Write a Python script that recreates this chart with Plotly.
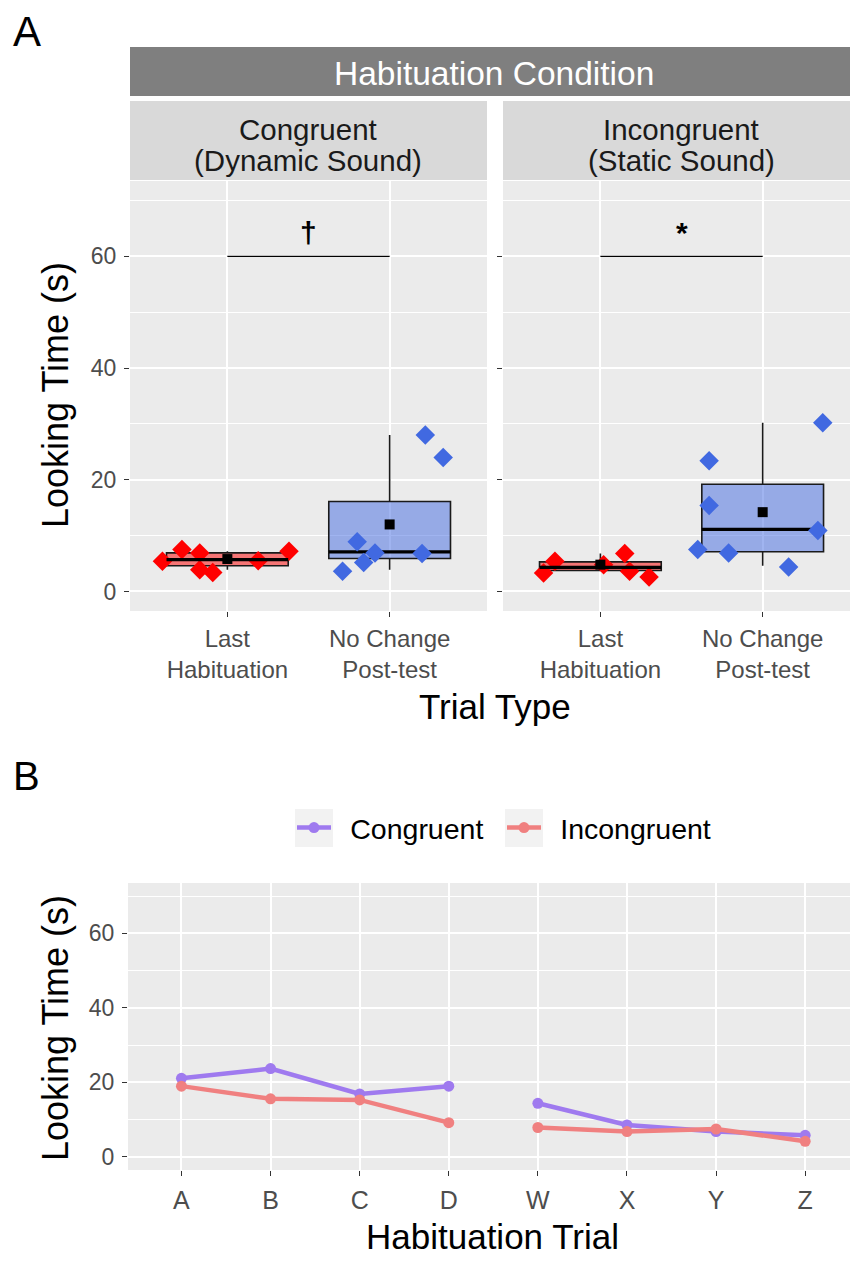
import plotly.graph_objects as go

# ---------------- data ----------------
trial_types = ["Last<br>Habituation", "No Change<br>Post-test"]
facet_line1 = ["Congruent", "Incongruent"]
facet_line2 = ["(Dynamic Sound)", "(Static Sound)"]
strip_title = "Habituation Condition"

# individual looking times (s) with horizontal jitter (category units)
cong_last = [5.4, 7.5, 6.9, 3.9, 3.4, 5.5, 7.2]
cong_last_jit = [-0.40, -0.28, -0.17, -0.17, -0.09, 0.19, 0.38]
cong_post = [3.6, 8.9, 5.2, 6.9, 6.8, 28.0, 24.0]
cong_post_jit = [-0.29, -0.20, -0.16, -0.09, 0.20, 0.22, 0.33]
incong_last = [3.3, 5.4, 4.8, 6.8, 3.6, 2.6]
incong_last_jit = [-0.35, -0.28, 0.02, 0.15, 0.18, 0.30]
incong_post = [7.5, 23.4, 15.4, 6.9, 4.4, 10.9, 30.2]
incong_post_jit = [-0.40, -0.33, -0.33, -0.21, 0.16, 0.34, 0.37]

# box summaries per trial type: [Last Habituation, No Change Post-test]
cong_q1 = [4.6, 5.9]
cong_med = [5.7, 7.1]
cong_q3 = [6.9, 16.1]
cong_lo = [3.9, 3.9]
cong_hi = [7.2, 28.0]
cong_mean = [5.8, 12.0]
incong_q1 = [3.75, 7.1]
incong_med = [4.3, 11.1]
incong_q3 = [5.3, 19.2]
incong_lo = [3.6, 4.6]
incong_hi = [6.8, 30.2]
incong_mean = [4.8, 14.2]

sig_labels = ["†", "*"]
sig_level = 60
sig_label_level = 64.3

# habituation curves
trials = ["A", "B", "C", "D", "W", "X", "Y", "Z"]
trial_block = [1, 1, 1, 1, 2, 2, 2, 2]
congruent_curve = [21.1, 23.7, 16.9, 19.0, 14.4, 8.6, 6.8, 5.8]
incongruent_curve = [19.0, 15.6, 15.3, 9.2, 7.9, 6.8, 7.5, 4.2]

# ---------------- styling ----------------
W, H = 850, 1279
FONT = "Liberation Sans, Arial, sans-serif"
PANEL = "#ebebeb"
TICK_COL = "#4d4d4d"
RED, BLUE = "#ff0000", "#4169e1"
RED_FILL, BLUE_FILL = "rgba(255,0,0,0.5)", "rgba(65,105,225,0.5)"
PURPLE, CORAL = "#9f7aef", "#f08080"


def px(x):
    return x / W


def py(y):
    return 1 - y / H


fig = go.Figure()

facets = [
    dict(xa="x", ya="y",
         pts=[(cong_last, cong_last_jit), (cong_post, cong_post_jit)],
         q1=cong_q1, med=cong_med, q3=cong_q3, lo=cong_lo, hi=cong_hi, mean=cong_mean),
    dict(xa="x2", ya="y2",
         pts=[(incong_last, incong_last_jit), (incong_post, incong_post_jit)],
         q1=incong_q1, med=incong_med, q3=incong_q3, lo=incong_lo, hi=incong_hi, mean=incong_mean),
]
point_cols = [RED, BLUE]
fill_cols = [RED_FILL, BLUE_FILL]
box_w = 0.75

for f in facets:
    for i in range(2):
        vals, jit = f["pts"][i]
        pts = go.Scatter(
            x=[i + j for j in jit], y=vals, mode="markers",
            marker=dict(symbol="diamond", size=15, color=point_cols[i]),
            xaxis=f["xa"], yaxis=f["ya"], showlegend=False, hoverinfo="y")
        box = go.Box(
            x=[i], q1=[f["q1"][i]], median=[f["med"][i]], q3=[f["q3"][i]],
            lowerfence=[f["lo"][i]], upperfence=[f["hi"][i]],
            width=box_w, whiskerwidth=0, fillcolor=fill_cols[i],
            line=dict(color="#1a1a1a", width=1.6), boxpoints=False,
            xaxis=f["xa"], yaxis=f["ya"], showlegend=False)
        median = go.Scatter(
            x=[i - box_w / 2, i + box_w / 2], y=[f["med"][i]] * 2, mode="lines",
            line=dict(color="#000000", width=3.2),
            xaxis=f["xa"], yaxis=f["ya"], showlegend=False, hoverinfo="skip")
        mean = go.Scatter(
            x=[i], y=[f["mean"][i]], mode="markers",
            marker=dict(symbol="square", size=10, color="#000000"),
            xaxis=f["xa"], yaxis=f["ya"], showlegend=False)
        if i == 0:
            fig.add_traces([pts, box, median, mean])
        else:
            fig.add_traces([box, median, pts, mean])

    # significance bracket
    fig.add_trace(go.Scatter(
        x=[0, 1], y=[sig_level, sig_level], mode="lines",
        line=dict(color="#000000", width=1.3),
        xaxis=f["xa"], yaxis=f["ya"], showlegend=False, hoverinfo="skip"))

for k, lab in enumerate(sig_labels):
    fig.add_annotation(x=0.5, y=sig_label_level, xref="x" if k == 0 else "x2",
                       yref="y" if k == 0 else "y2", text=f"<b>{lab}</b>",
                       showarrow=False, font=dict(family=FONT, size=30, color="#000000"))

# habituation curves, one segment per block
for name, vals, col in [("Congruent", congruent_curve, PURPLE),
                        ("Incongruent", incongruent_curve, CORAL)]:
    for b in sorted(set(trial_block)):
        idx = [k for k, t in enumerate(trial_block) if t == b]
        fig.add_trace(go.Scatter(
            x=[trials[k] for k in idx], y=[vals[k] for k in idx],
            mode="lines+markers", name="\u2002" + name, legendgroup=name,
            showlegend=(b == 1),
            line=dict(color=col, width=4.5), marker=dict(color=col, size=11),
            xaxis="x3", yaxis="y3"))

# ---------------- axes ----------------
yr = [-3.5, 73.5]
ygrid = dict(range=yr, tickvals=[0, 20, 40, 60], showgrid=True, gridcolor="white",
             gridwidth=1.6, zeroline=False, ticks="outside", ticklen=5,
             tickcolor="#333333", tickwidth=1.2,
             tickfont=dict(family=FONT, size=23, color=TICK_COL),
             minor=dict(tickvals=[10, 30, 50, 70], showgrid=True, gridcolor="white",
                        gridwidth=0.8, ticks=""),
             showline=False, fixedrange=True, ticklabelstandoff=3)
xcommon = dict(tickvals=[0, 1], ticktext=trial_types, showgrid=True, gridcolor="white",
               gridwidth=1.6, zeroline=False, ticks="outside", ticklen=5,
               tickcolor="#333333", tickwidth=1.2,
               tickfont=dict(family=FONT, size=24, color=TICK_COL), showline=False,
               ticklabelstandoff=1)

ya_bot, ya_top = py(611), py(181)
yb_bot, yb_top = py(1170), py(883)

fig.update_layout(
    xaxis=dict(domain=[px(130), px(487)], range=[-0.6, 1.6], anchor="y", **xcommon),
    xaxis2=dict(domain=[px(503), 1.0], range=[-0.6, 1.538], anchor="y2", **xcommon),
    yaxis=dict(domain=[ya_bot, ya_top], anchor="x", **ygrid),
    yaxis2=dict(domain=[ya_bot, ya_top], anchor="x2", matches="y", showticklabels=False,
                **{k: v for k, v in ygrid.items() if k != "tickfont"}),
    xaxis3=dict(domain=[px(128), 1.0], type="category", categoryorder="array",
                categoryarray=trials, range=[-0.6, 7.503], anchor="y3",
                showgrid=True, gridcolor="white", gridwidth=1.6, ticks="outside",
                ticklen=5, tickcolor="#333333", tickwidth=1.2, ticklabelstandoff=3,
                tickfont=dict(family=FONT, size=25, color=TICK_COL)),
    yaxis3=dict(domain=[yb_bot, yb_top], anchor="x3", **ygrid),
)

# ---------------- strips / panel decoration ----------------
LEG_Y = 828
LEG_X0 = 292          # left edge of the first legend entry
KEY_W = 34            # legend key line length
ENTRY_STEP = 210      # distance between legend entries
shapes = [
    dict(type="rect", xref="paper", yref="paper", x0=px(130), x1=1.0,
         y0=py(96), y1=py(47), fillcolor="#7f7f7f", line=dict(width=0), layer="below"),
    dict(type="rect", xref="paper", yref="paper", x0=px(130), x1=px(487),
         y0=py(180), y1=py(101), fillcolor="#d9d9d9", line=dict(width=0), layer="below"),
    dict(type="rect", xref="paper", yref="paper", x0=px(503), x1=1.0,
         y0=py(180), y1=py(101), fillcolor="#d9d9d9", line=dict(width=0), layer="below"),
]
# grey key backgrounds of the legend, centred on each key line
for k in range(2):
    cx = LEG_X0 + k * ENTRY_STEP + 5 + KEY_W / 2
    shapes.append(dict(type="rect", xref="paper", yref="paper",
                       x0=px(cx - 19), x1=px(cx + 19),
                       y0=py(LEG_Y + 19), y1=py(LEG_Y - 19), fillcolor="#f2f2f2",
                       line=dict(width=0), layer="below"))
fig.update_layout(shapes=shapes)

ann = [
    dict(x=px(494), y=py(73), text=strip_title, font=dict(size=33.5, color="white")),
    dict(x=px(308), y=py(129), text=facet_line1[0], font=dict(size=29.5, color="#1a1a1a")),
    dict(x=px(308), y=py(160), text=facet_line2[0], font=dict(size=29.5, color="#1a1a1a")),
    dict(x=px(681), y=py(129), text=facet_line1[1], font=dict(size=29.5, color="#1a1a1a")),
    dict(x=px(681), y=py(160), text=facet_line2[1], font=dict(size=29.5, color="#1a1a1a")),
    dict(x=px(495), y=py(706), text="Trial Type", font=dict(size=35, color="#000000")),
    dict(x=px(493), y=py(1236), text="Habituation Trial", font=dict(size=35, color="#000000")),
    dict(x=px(55), y=py(395), text="Looking Time (s)", textangle=-90,
         font=dict(size=36, color="#000000")),
    dict(x=px(55), y=py(1028), text="Looking Time (s)", textangle=-90,
         font=dict(size=36, color="#000000")),
    dict(x=px(27), y=py(31), text="A", font=dict(size=42, color="#000000")),
    dict(x=px(27), y=py(776), text="B", font=dict(size=40, color="#000000")),
]
for a in ann:
    a.setdefault("xref", "paper")
    a.setdefault("yref", "paper")
    a["showarrow"] = False
    a["xanchor"] = "center"
    a["yanchor"] = "middle"
    a["font"]["family"] = FONT
    fig.add_annotation(**a)

fig.update_layout(
    width=W, height=H, margin=dict(l=0, r=0, t=0, b=0),
    paper_bgcolor="white", plot_bgcolor=PANEL,
    font=dict(family=FONT),
    legend=dict(orientation="h", x=px(LEG_X0), xanchor="left", y=py(LEG_Y),
                yanchor="middle", font=dict(family=FONT, size=28.5, color="#000000"),
                bgcolor="rgba(0,0,0,0)", itemwidth=KEY_W, tracegroupgap=0,
                entrywidth=ENTRY_STEP - KEY_W - 15, entrywidthmode="pixels"),
)

fig.write_html("out.html")
